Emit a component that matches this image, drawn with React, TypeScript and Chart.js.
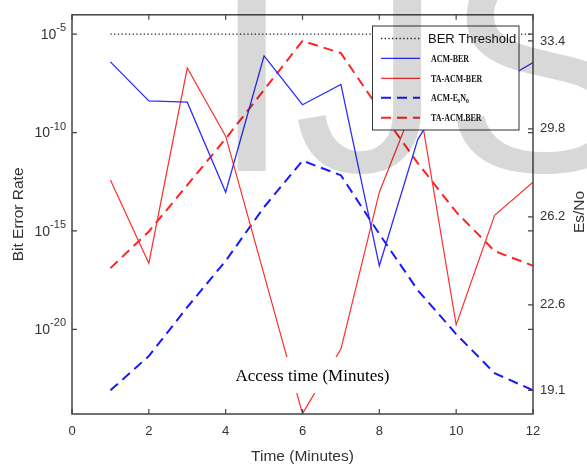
import React, { useEffect, useRef } from 'react';
import { Chart, registerables } from 'chart.js';

Chart.register(...registerables);

// ---- data ----
const times = [1, 2, 3, 4, 5, 6, 7, 8, 9, 10, 11, 12];
const berThreshold = [1e-5, 1e-5, 1e-5, 1e-5, 1e-5, 1e-5, 1e-5, 1e-5, 1e-5, 1e-5, 1e-5, 1e-5];
const acmBer = [3.9e-7, 4.1e-9, 3.5e-9, 9.3e-14, 7.9e-7, 2.6e-9, 2.8e-8, 1.7e-17, 4.4e-11, 7.2e-8, 2.5e-8, 3.6e-7];
const taAcmBer = [3.9e-13, 2.3e-17, 1.9e-7, 6.6e-11, 6.0e-18, 5.2e-25, 1.0e-21, 9.3e-14, 7.9e-9, 1.7e-20, 6.3e-15, 3.0e-13];
const acmEsNo = [19.1, 20.5, 22.5, 24.4, 26.6, 28.5, 27.9, 25.5, 23.2, 21.4, 19.8, 19.1];
const taAcmEsNo = [24.1, 25.6, 27.5, 29.4, 31.4, 33.4, 32.9, 30.6, 28.4, 26.4, 24.8, 24.2];

const xTicks = [0, 2, 4, 6, 8, 10, 12];
const berTickExponents = [-5, -10, -15, -20];
const berTickLabels = ['-5', '-10', '-15', '-20'];
const esNoTicks = [19.1, 22.6, 26.2, 29.8, 33.4];
const esNoTickLabels = ['19.1', '22.6', '26.2', '29.8', '33.4'];

const legendLabels = ['BER Threshold', 'ACM-BER', 'TA-ACM-BER', 'ACM-EsNo', 'TA-ACM.BER'];

const SANS = '"Liberation Sans", Arial, sans-serif';
const SERIF = '"Liberation Serif", "Times New Roman", serif';
const TEXT = '#333333';

const toXY = (ys: number[]) => times.map((t, i) => ({ x: t, y: ys[i] }));

const decorPlugin = {
  id: 'decor',
  afterDraw(chart: any) {
    const { ctx, chartArea } = chart;
    const { left, right, top, bottom } = chartArea;
    const xs = chart.scales.x;
    const ys = chart.scales.y;
    const y1 = chart.scales.y1;
    ctx.save();

    // "Access time (Minutes)" annotation with white background
    ctx.fillStyle = '#ffffff';
    ctx.fillRect(231, 357, 163, 36);
    ctx.fillStyle = '#000000';
    ctx.font = `17px ${SERIF}`;
    ctx.textAlign = 'center';
    ctx.textBaseline = 'middle';
    ctx.fillText('Access time (Minutes)', 312.5, 377);

    // frame
    ctx.strokeStyle = '#444444';
    ctx.lineWidth = 1.5;
    ctx.strokeRect(left, top, right - left, bottom - top);

    // inward ticks
    ctx.lineWidth = 1.2;
    ctx.beginPath();
    xTicks.forEach((v) => {
      const px = xs.getPixelForValue(v);
      ctx.moveTo(px, bottom);
      ctx.lineTo(px, bottom - 5);
      ctx.moveTo(px, top);
      ctx.lineTo(px, top + 5);
    });
    berTickExponents.forEach((e) => {
      const py = ys.getPixelForValue(Math.pow(10, e));
      ctx.moveTo(left, py);
      ctx.lineTo(left + 5, py);
      ctx.moveTo(right, py);
      ctx.lineTo(right - 5, py);
    });
    esNoTicks.forEach((v) => {
      const py = y1.getPixelForValue(v);
      ctx.moveTo(right, py);
      ctx.lineTo(right - 5, py);
    });
    ctx.stroke();

    // left tick labels 10^e
    ctx.fillStyle = TEXT;
    ctx.textBaseline = 'middle';
    berTickExponents.forEach((e, i) => {
      const py = ys.getPixelForValue(Math.pow(10, e));
      ctx.font = `11px ${SANS}`;
      const supW = ctx.measureText(berTickLabels[i]).width;
      ctx.textAlign = 'right';
      ctx.fillText(berTickLabels[i], 66, py - 6);
      ctx.font = `14px ${SANS}`;
      ctx.fillText('10', 66 - supW, py + 1);
    });

    // right axis title (reads bottom to top)
    ctx.save();
    ctx.translate(580, 212);
    ctx.rotate(-Math.PI / 2);
    ctx.font = `15.5px ${SANS}`;
    ctx.textAlign = 'center';
    ctx.textBaseline = 'middle';
    ctx.fillStyle = TEXT;
    ctx.fillText('Es/No', 0, 0);
    ctx.restore();

    // legend
    const lx = 372.5, ly = 26, lw = 146.5, lh = 104;
    ctx.fillStyle = '#ffffff';
    ctx.fillRect(lx, ly, lw, lh);
    ctx.strokeStyle = '#333333';
    ctx.lineWidth = 1;
    ctx.strokeRect(lx, ly, lw, lh);
    const rowY = [38.5, 58.3, 78.3, 97.7, 117.7];
    chart.data.datasets.forEach((ds: any, i: number) => {
      const y = rowY[i];
      ctx.save();
      ctx.strokeStyle = ds.borderColor;
      ctx.lineWidth = ds.borderWidth;
      ctx.setLineDash(ds.borderDash || []);
      ctx.beginPath();
      ctx.moveTo(381, y);
      ctx.lineTo(420, y);
      ctx.stroke();
      ctx.restore();
      ctx.fillStyle = '#111111';
      ctx.textAlign = 'left';
      ctx.textBaseline = 'middle';
      if (i === 0) {
        ctx.font = `13px ${SANS}`;
        ctx.fillText(legendLabels[i], 428, y + 1);
      } else {
        ctx.save();
        ctx.translate(431, y + 1);
        ctx.scale(0.76, 1);
        if (i === 3) {
          let cx = 0;
          const parts: [string, boolean][] = [['ACM-E', false], ['s', true], ['N', false], ['o', true]];
          parts.forEach(([t, sub]) => {
            ctx.font = sub ? `bold 7.5px ${SERIF}` : `bold 10.5px ${SERIF}`;
            ctx.fillText(t, cx, sub ? 2 : 0);
            cx += ctx.measureText(t).width;
          });
        } else {
          ctx.font = `bold 10.5px ${SERIF}`;
          ctx.fillText(legendLabels[i], 0, 0);
        }
        ctx.restore();
      }
    });

    // watermark
    ctx.globalCompositeOperation = 'multiply';
    ctx.fillStyle = 'rgb(216,216,216)';
    ctx.font = `300px ${SANS}`;
    ctx.textAlign = 'left';
    ctx.textBaseline = 'alphabetic';
    ctx.fillText('IJS', 210, 171);
    ctx.restore();
  },
};

export default function App() {
  const ref = useRef<HTMLCanvasElement | null>(null);
  useEffect(() => {
    if (!ref.current) return;
    const chart = new Chart(ref.current, {
      type: 'line',
      data: {
        datasets: [
          {
            label: legendLabels[0],
            data: toXY(berThreshold),
            yAxisID: 'y',
            borderColor: '#222222',
            borderWidth: 1.3,
            borderDash: [1.3, 2.4],
            pointRadius: 0,
          },
          {
            label: legendLabels[1],
            data: toXY(acmBer),
            yAxisID: 'y',
            borderColor: 'rgb(45,45,255)',
            borderWidth: 1.3,
            pointRadius: 0,
          },
          {
            label: legendLabels[2],
            data: toXY(taAcmBer),
            yAxisID: 'y',
            borderColor: 'rgb(255,45,45)',
            borderWidth: 1.2,
            pointRadius: 0,
          },
          {
            label: legendLabels[3],
            data: toXY(acmEsNo),
            yAxisID: 'y1',
            borderColor: 'rgb(25,25,255)',
            borderWidth: 2,
            borderDash: [10, 6],
            pointRadius: 0,
          },
          {
            label: legendLabels[4],
            data: toXY(taAcmEsNo),
            yAxisID: 'y1',
            borderColor: 'rgb(255,35,35)',
            borderWidth: 2,
            borderDash: [10, 6],
            pointRadius: 0,
          },
        ] as any,
      },
      options: {
        animation: false,
        responsive: false,
        parsing: true,
        layout: { padding: { top: 11, left: 0, right: 0, bottom: 0 } },
        plugins: { legend: { display: false }, tooltip: { enabled: false } },
        scales: {
          x: {
            type: 'linear',
            position: 'bottom',
            min: 0,
            max: 12,
            grid: { display: false, drawTicks: false },
            border: { display: false },
            afterBuildTicks: (s: any) => {
              s.ticks = xTicks.map((v) => ({ value: v }));
            },
            ticks: {
              padding: 10,
              color: TEXT,
              autoSkip: false,
              maxRotation: 0,
              font: { family: SANS, size: 13 },
            },
            title: {
              display: true,
              text: 'Time (Minutes)',
              color: TEXT,
              font: { family: SANS, size: 15.5 },
              padding: { top: 0, bottom: 0 },
            },
            afterFit: (s: any) => {
              s.height = 52;
            },
          },
          y: {
            type: 'logarithmic',
            position: 'left',
            min: 5.13e-25,
            max: 9.66e-5,
            grid: { display: false, drawTicks: false },
            border: { display: false },
            ticks: { display: false },
            title: {
              display: true,
              text: 'Bit Error Rate',
              color: TEXT,
              font: { family: SANS, size: 15.5 },
              padding: { top: 9, bottom: 0 },
            },
            afterFit: (s: any) => {
              s.width = 72;
            },
          },
          y1: {
            type: 'linear',
            position: 'right',
            min: 18.13,
            max: 34.47,
            grid: { display: false, drawTicks: false },
            border: { display: false },
            afterBuildTicks: (s: any) => {
              s.ticks = esNoTicks.map((v) => ({ value: v }));
            },
            ticks: {
              padding: 7,
              color: TEXT,
              font: { family: SANS, size: 13 },
              callback: (_v: any, i: number) => esNoTickLabels[i],
            },
            afterFit: (s: any) => {
              s.width = 54;
            },
          },
        },
      } as any,
      plugins: [decorPlugin],
    });
    return () => chart.destroy();
  }, []);
  return (
    <div style={{ position: 'absolute', left: 0, top: 0, width: 587, height: 466, background: '#fff' }}>
      <canvas ref={ref} width={587} height={466} style={{ display: 'block' }} />
    </div>
  );
}
